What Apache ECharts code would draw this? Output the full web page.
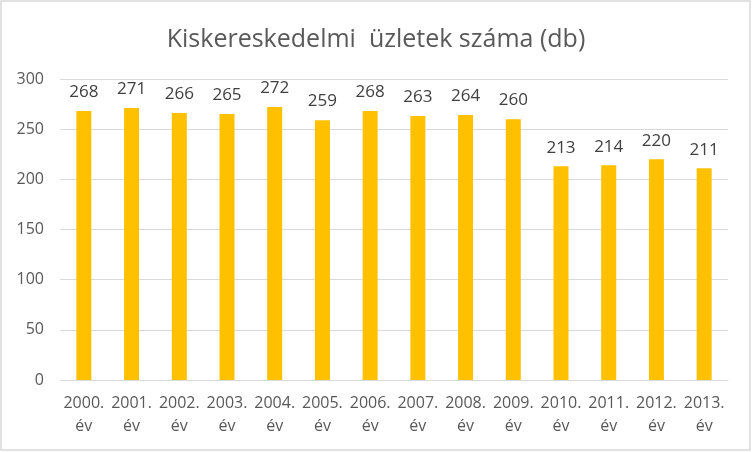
<!DOCTYPE html>
<html>
<head>
<meta charset="utf-8">
<script src="https://cdn.jsdelivr.net/npm/echarts@6/dist/echarts.min.js"></script>
<style>
html, body { margin: 0; padding: 0; background: #fff; }
#chart { width: 752px; height: 452px; }
</style>
</head>
<body>
<div id="chart"></div>
<script>
var categories = ['2000.\név', '2001.\név', '2002.\név', '2003.\név', '2004.\név', '2005.\név', '2006.\név',
    '2007.\név', '2008.\név', '2009.\név', '2010.\név', '2011.\név', '2012.\név', '2013.\név'];
var values = [268, 271, 266, 265, 272, 259, 268, 263, 264, 260, 213, 214, 220, 211];
var yTicks = [0, 300, 50];

var chart = echarts.init(document.getElementById('chart'));
chart.setOption({
    animation: false,
    backgroundColor: '#fff',
    textStyle: { fontFamily: 'Open Sans' },
    graphic: [{
        type: 'rect',
        shape: { x: 1, y: 1, width: 749, height: 449 },
        style: { fill: 'none', stroke: '#d9d9d9', lineWidth: 1.5 }
    }],
    title: {
        text: 'Kiskereskedelmi  üzletek száma (db)',
        left: 'center',
        top: 22,
        textStyle: { fontSize: 25, fontWeight: 'normal', color: '#595959', fontFamily: 'Open Sans' }
    },
    grid: { left: 60, right: 24, top: 79, bottom: 72 },
    xAxis: {
        type: 'category',
        data: categories,
        axisLine: { lineStyle: { color: '#d9d9d9' } },
        axisTick: { show: false },
        axisLabel: { color: '#595959', fontSize: 16, lineHeight: 23, margin: 12, interval: 0 }
    },
    yAxis: {
        type: 'value',
        min: yTicks[0],
        max: yTicks[1],
        interval: yTicks[2],
        axisLine: { show: false },
        axisTick: { show: false },
        splitLine: { lineStyle: { color: '#d9d9d9' } },
        axisLabel: { color: '#595959', fontSize: 16, margin: 16 }
    },
    series: [{
        type: 'bar',
        data: values,
        barWidth: 15,
        itemStyle: { color: '#ffc000' },
        label: { show: true, position: 'top', distance: 10, color: '#404040', fontSize: 17 }
    }]
});
</script>
</body>
</html>
